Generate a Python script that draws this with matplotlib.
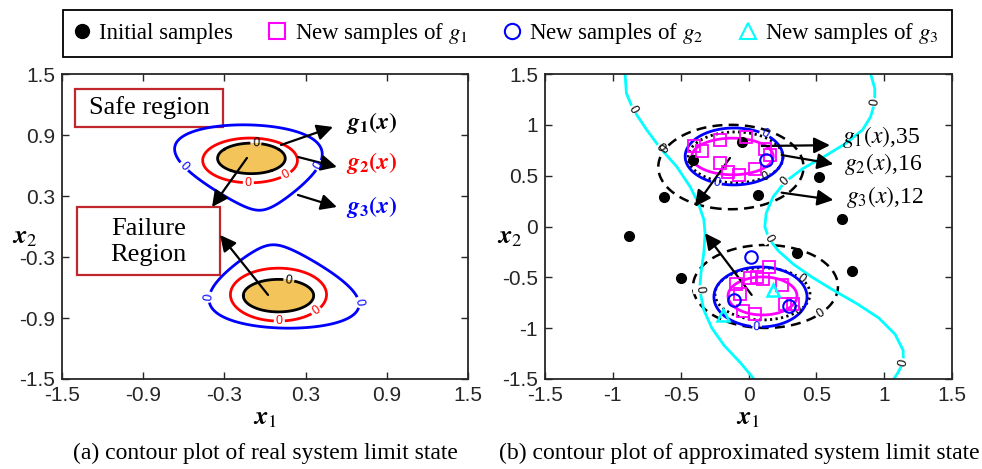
import numpy as np
import matplotlib.pyplot as plt
from matplotlib.lines import Line2D
from matplotlib.patches import Rectangle

plt.rcParams['font.family'] = ['Liberation Sans', 'DejaVu Sans']
plt.rcParams['mathtext.fontset'] = 'stix'
serif = 'Liberation Serif'

# ---- (a) real limit states, [upper cluster, lower cluster] ----
g1_cx = [-0.10, 0.10]
g1_cy = [0.67, -0.68]
g1_a = [0.25, 0.26]
g1_b = [0.15, 0.16]

g2_cx = [-0.11, 0.10]
g2_cy = [0.65, -0.67]
g2_a = [0.35, 0.355]
g2_b = [0.22, 0.26]

g3_cx = [-0.10, 0.12]
g3_cy = [0.58, -0.59]
g3_a = [0.49, 0.50]
g3_b = [0.42, 0.41]
g3_k = [1.25, -1.25]
g3_s = [-0.14, -0.14]

# ---- (b) approximated limit states ----
dash_cx = [-0.13, 0.125]
dash_cy = [0.585, -0.59]
dash_a = [0.535, 0.534]
dash_b = [0.415, 0.408]

dot_cx = [-0.096, 0.103]
dot_cy = [0.68, -0.663]
dot_a = [0.35, 0.35]
dot_b = [0.25, 0.256]

blue_cx = [-0.107, 0.088]
blue_cy = [0.689, -0.693]
blue_a = [0.36, 0.343]
blue_b = [0.28, 0.295]

mag_cx = [-0.118, 0.103]
mag_cy = [0.689, -0.683]
mag_a = [0.30, 0.254]
mag_b = [0.18, 0.187]

# approximated g3 (two branches)
cyan_left_x = [-0.91, -0.90, -0.85, -0.75, -0.65, -0.53, -0.43, -0.37, -0.33, -0.32,
               -0.33, -0.35, -0.36, -0.33, -0.27, -0.18, -0.06, 0.04]
cyan_left_y = [1.50, 1.31, 1.15, 0.95, 0.77, 0.59, 0.39, 0.23, 0.07, -0.07,
               -0.26, -0.45, -0.62, -0.82, -1.00, -1.17, -1.34, -1.50]
cyan_right_x = [0.90, 0.93, 0.93, 0.90, 0.84, 0.72, 0.56, 0.40, 0.27, 0.18, 0.13, 0.12,
                0.15, 0.22, 0.33, 0.47, 0.63, 0.80, 0.96, 1.08, 1.14, 1.14, 1.10, 1.07]
cyan_right_y = [1.50, 1.36, 1.22, 1.08, 0.95, 0.82, 0.69, 0.57, 0.44, 0.29, 0.13, 0.00,
                -0.12, -0.24, -0.37, -0.50, -0.63, -0.76, -0.90, -1.06, -1.22, -1.34, -1.44, -1.50]

# samples
init_x = [-0.05, -0.41, -0.62, 0.07, 0.52, 0.69, -0.88, 0.36, 0.76, -0.50]
init_y = [0.83, 0.65, 0.29, 0.31, 0.49, 0.07, -0.09, -0.26, -0.44, -0.51]
sq_x = [-0.40, -0.34, -0.21, -0.02, 0.12, 0.16, 0.05, -0.07, -0.15, -0.21,
        0.15, 0.01, 0.06, 0.11, -0.09, 0.25, -0.06, -0.04, 0.05, 0.27, 0.33]
sq_y = [0.79, 0.74, 0.85, 0.88, 0.76, 0.70, 0.57, 0.51, 0.54, 0.62,
        -0.40, -0.51, -0.50, -0.52, -0.57, -0.58, -0.66, -0.83, -0.86, -0.76, -0.76]
circ_x = [0.13, 0.02, -0.105, 0.30]
circ_y = [0.65, -0.30, -0.72, -0.78]
tri_x = [0.18, -0.19]
tri_y = [-0.62, -0.87]

ticks_a = [-1.5, -0.9, -0.3, 0.3, 0.9, 1.5]
ticks_b = [-1.5, -1, -0.5, 0, 0.5, 1, 1.5]


def shape(X1, X2, cx, cy, a, b, k=0., s=0.):
    t = X2 - cy
    w = a * np.maximum(1 + k * t, 0.05)
    u = (X1 - cx - s * t) / w
    return u ** 2 + (t / b) ** 2 - 1


def limit_state(cx, cy, a, b, k=(0, 0), s=(0, 0)):
    return np.minimum(*[shape(X1, X2, cx[i], cy[i], a[i], b[i], k[i], s[i]) for i in range(2)])


grid = np.linspace(-1.5, 1.5, 601)
X1, X2 = np.meshgrid(grid, grid)

fig = plt.figure(figsize=(9.82, 4.69), dpi=100)
axa = fig.add_axes([0.0631, 0.1919, 0.4134, 0.6503])
axb = fig.add_axes([0.555, 0.1919, 0.4145, 0.6503])


def style(ax, ticks, ylab_x):
    ax.set_xlim(-1.5, 1.5)
    ax.set_ylim(-1.5, 1.5)
    ax.set_xticks(ticks)
    ax.set_yticks(ticks)
    ax.set_xticklabels(['%g' % t for t in ticks])
    ax.set_yticklabels(['%g' % t for t in ticks])
    ax.tick_params(direction='in', top=True, right=True, length=5, width=1,
                   labelsize=15, colors='#262626', pad=5)
    for sp in ax.spines.values():
        sp.set_linewidth(1.3)
        sp.set_color('#262626')
    ax.set_xlabel(r'$\mathbfit{x}_1$', fontsize=19, labelpad=1)
    ax.set_ylabel(r'$\mathbfit{x}_2$', fontsize=19, rotation=0, va='center', ha='center')
    ax.yaxis.set_label_coords(ylab_x, 0.466)


def lbl(cs, ax, where):
    ax.clabel(cs, fmt=lambda v: '0', fontsize=9, inline=True, inline_spacing=2, manual=where)


arrow = dict(arrowstyle='-|>', mutation_scale=24, lw=1.6, color='k', shrinkA=0, shrinkB=0)

# ---- panel (a) ----
G1 = limit_state(g1_cx, g1_cy, g1_a, g1_b)
G2 = limit_state(g2_cx, g2_cy, g2_a, g2_b)
G3 = limit_state(g3_cx, g3_cy, g3_a, g3_b, g3_k, g3_s)
axa.contourf(X1, X2, G1, levels=[-100, 0], colors=['#F2C45A'])
lbl(axa.contour(X1, X2, G1, levels=[0], colors='k', linewidths=2), axa,
    [(-0.066, 0.841), (0.173, -0.558)])
lbl(axa.contour(X1, X2, G2, levels=[0], colors='#FF0000', linewidths=2), axa,
    [(-0.123, 0.431), (0.155, 0.507), (0.382, -0.837), (0.106, -0.929)])
lbl(axa.contour(X1, X2, G3, levels=[0], colors='#0000FF', linewidths=2), axa,
    [(-0.598, 0.589), (0.394, 0.605), (-0.406, -0.696), (0.649, -0.755)])
style(axa, ticks_a, -0.091)

axa.add_patch(Rectangle((-1.404, 0.979), 1.094, 0.374, fill=False, ec='#C0272D', lw=1.6))
axa.text(-0.857, 1.166, 'Safe region', family=serif, fontsize=19, ha='center', va='center')
axa.add_patch(Rectangle((-1.389, -0.476), 1.057, 0.668, fill=False, ec='#C0272D', lw=1.6))
axa.text(-0.861, -0.152, 'Failure\nRegion', family=serif, fontsize=19, ha='center',
         va='center', linespacing=1.2)

axa.annotate('', xy=(0.503, 0.979), xytext=(0.119, 0.802), arrowprops=arrow)
axa.annotate('', xy=(0.532, 0.586), xytext=(0.244, 0.684), arrowprops=arrow)
axa.annotate('', xy=(0.532, 0.192), xytext=(0.244, 0.310), arrowprops=arrow)
axa.annotate('', xy=(-0.391, 0.192), xytext=(-0.133, 0.674), arrowprops=arrow)
axa.annotate('', xy=(-0.332, -0.083), xytext=(0.023, -0.673), arrowprops=arrow)
axa.text(0.60, 1.018, r'$\mathbfit{g}_\mathbf{1}\mathbf{(}\mathbfit{x}\mathbf{)}$', color='k',
         fontsize=17, va='center')
axa.text(0.60, 0.625, r'$\mathbfit{g}_\mathbf{2}\mathbf{(}\mathbfit{x}\mathbf{)}$', color='#FF0000',
         fontsize=17, va='center')
axa.text(0.60, 0.192, r'$\mathbfit{g}_\mathbf{3}\mathbf{(}\mathbfit{x}\mathbf{)}$', color='#0000FF',
         fontsize=17, va='center')

# ---- panel (b) ----
lbl(axb.contour(X1, X2, limit_state(dash_cx, dash_cy, dash_a, dash_b), levels=[0], colors='k',
                linewidths=1.8, linestyles=[(0, (4, 2.5))]), axb,
    [(-0.62, 0.76), (0.55, -0.90)])
lbl(axb.contour(X1, X2, limit_state(dot_cx, dot_cy, dot_a, dot_b), levels=[0], colors='k',
                linewidths=2, linestyles=[(0, (0.8, 1.2))]), axb,
    [(0.12, 0.49), (0.305, -0.656), (0.40, -0.90)])
lbl(axb.contour(X1, X2, limit_state(blue_cx, blue_cy, blue_a, blue_b), levels=[0],
                colors='#0000FF', linewidths=2), axb,
    [(0.08, 0.80), (-0.235, 0.44), (0.06, -0.936)])
axb.contour(X1, X2, limit_state(mag_cx, mag_cy, mag_a, mag_b), levels=[0],
            colors='#FF00FF', linewidths=2)


def cyan_branch(xs, ys, label_idx):
    axb.plot(xs, ys, color='#00FFFF', lw=2, zorder=2)
    for i in label_idx:
        ang = np.degrees(np.arctan2(ys[i + 1] - ys[i - 1], xs[i + 1] - xs[i - 1]))
        if ang > 90:
            ang -= 180
        if ang < -90:
            ang += 180
        axb.text(xs[i], ys[i], '0', fontsize=9, ha='center', va='center', rotation=ang,
                 rotation_mode='anchor', transform_rotates_text=True, zorder=3,
                 bbox=dict(fc='white', ec='none', pad=0.5))


cyan_branch(cyan_left_x, cyan_left_y, [2, 4, 12])
cyan_branch(cyan_right_x, cyan_right_y, [2, 8, 12, 21])

axb.plot(init_x, init_y, 'o', color='k', ms=7, zorder=4)
axb.plot(sq_x, sq_y, 's', mfc='none', mec='#FF00FF', ms=8, mew=1.3, zorder=4)
axb.plot(circ_x, circ_y, 'o', mfc='none', mec='#0000FF', ms=9, mew=1.5, zorder=4)
axb.plot(tri_x, tri_y, '^', mfc='none', mec='#00FFFF', ms=9, mew=1.8, zorder=4)
style(axb, ticks_b, -0.086)

axb.annotate('', xy=(0.60, 0.80), xytext=(0.097, 0.792), arrowprops=arrow)
axb.annotate('', xy=(0.625, 0.615), xytext=(0.244, 0.703), arrowprops=arrow)
axb.annotate('', xy=(0.625, 0.261), xytext=(0.244, 0.333), arrowprops=arrow)
axb.annotate('', xy=(-0.395, 0.195), xytext=(-0.137, 0.674), arrowprops=arrow)
axb.annotate('', xy=(-0.321, -0.066), xytext=(0.023, -0.673), arrowprops=arrow)
axb.text(0.69, 0.88, r'$g_1(x)$,35', family=serif, fontsize=17, va='center')
axb.text(0.70, 0.615, r'$g_2(x)$,16', family=serif, fontsize=17, va='center')
axb.text(0.72, 0.29, r'$g_3(x)$,12', family=serif, fontsize=17, va='center')

fig.text(0.2698, 0.034, '(a) contour plot of real system limit state', family=serif,
         fontsize=17, ha='center', va='center')
fig.text(0.753, 0.034, '(b) contour plot of approximated system limit state', family=serif,
         fontsize=17, ha='center', va='center')

handles = [
    Line2D([], [], ls='none', marker='o', color='k', ms=10),
    Line2D([], [], ls='none', marker='s', mfc='none', mec='#FF00FF', ms=11, mew=1.5),
    Line2D([], [], ls='none', marker='o', mfc='none', mec='#0000FF', ms=11, mew=1.5),
    Line2D([], [], ls='none', marker='^', mfc='none', mec='#00FFFF', ms=12, mew=1.5),
]
labels = ['Initial samples', r'New samples of $g_1$', r'New samples of $g_2$', r'New samples of $g_3$']
fig.add_artist(Rectangle((0.064, 0.878), 0.905, 0.100, transform=fig.transFigure,
                         fill=False, ec='k', lw=1.3))
fig.legend(handles, labels, loc='center left', bbox_to_anchor=(0.062, 0.928),
           ncol=4, frameon=False, borderaxespad=0, columnspacing=1.45,
           handlelength=1.0, handletextpad=0.25, prop={'family': serif, 'size': 16.5})

fig.savefig('out.png', dpi=100)
